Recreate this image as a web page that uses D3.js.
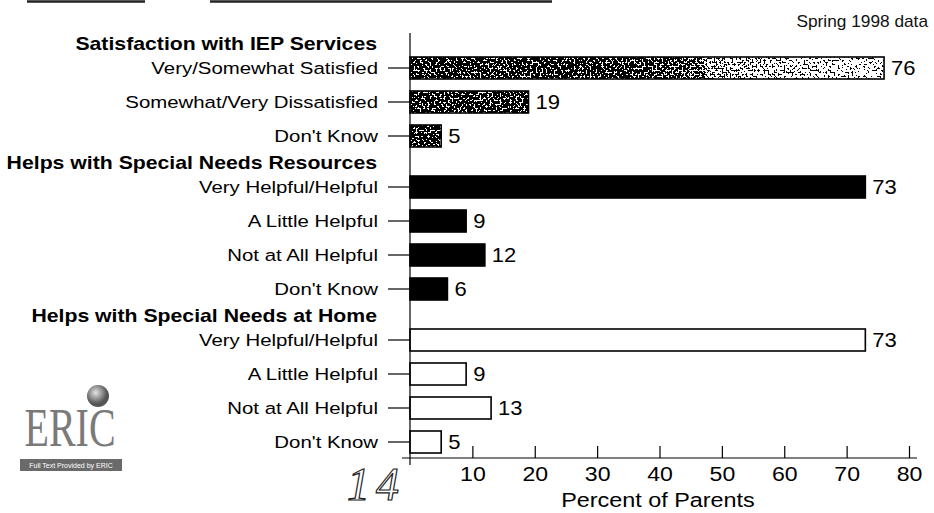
<!DOCTYPE html>
<html>
<head>
<meta charset="utf-8">
<script src="https://cdn.jsdelivr.net/npm/d3@7"></script>
<style>
  body { margin: 0; background: #fff; }
  svg { display: block; }
</style>
</head>
<body>
<div class="sticky"></div>
<script>
let w = 934;
let h = 513;

// data
const groupTitles = ["Satisfaction with IEP Services",
                     "Helps with Special Needs Resources",
                     "Helps with Special Needs at Home"];
const satLabels = ["Very/Somewhat Satisfied", "Somewhat/Very Dissatisfied", "Don't Know"];
const satValues = [76, 19, 5];
const resLabels = ["Very Helpful/Helpful", "A Little Helpful", "Not at All Helpful", "Don't Know"];
const resValues = [73, 9, 12, 6];
const homeLabels = ["Very Helpful/Helpful", "A Little Helpful", "Not at All Helpful", "Don't Know"];
const homeValues = [73, 9, 13, 5];
const xTicks = [10, 20, 30, 40, 50, 60, 70, 80];

const groups = [
  { title: groupTitles[0], labels: satLabels,  values: satValues,  kind: "stipple" },
  { title: groupTitles[1], labels: resLabels,  values: resValues,  kind: "solid" },
  { title: groupTitles[2], labels: homeLabels, values: homeValues, kind: "open" }
];

// each row gets one slot, each new group half a slot extra
let rows = [];
let headers = [];
let slot = 0;
groups.forEach(function(g) {
  headers.push({ title: g.title, slot: slot - 0.72 });
  g.labels.forEach(function(lab, i) {
    rows.push({ label: lab, value: g.values[i], kind: g.kind, slot: slot });
    slot++;
  });
  slot += 0.5;
});

let font = "'Liberation Sans', Arial, Helvetica, sans-serif";

let viz = d3.select(".sticky")
  .append("svg")
    .attr("width", w)
    .attr("height", h)
    .style("font-family", font)
;

let x = d3.scaleLinear().domain([0, 80]).range([410, 909]);
let y = d3.scaleLinear().domain([0, 11]).range([68, 442]);
let barH = 22;

let defs = viz.append("defs");

// the scan gets lighter toward the right of the long bar
let shade = defs.append("linearGradient").attr("id", "shade")
  .attr("gradientUnits", "userSpaceOnUse")
  .attr("x1", x(0)).attr("x2", x(80)).attr("y1", 0).attr("y2", 0);
shade.append("stop").attr("offset", 0).attr("stop-color", "#000");
shade.append("stop").attr("offset", 0.4).attr("stop-color", "#000");
shade.append("stop").attr("offset", 1).attr("stop-color", "#666");

// scanned halftone look for the first group
let f = defs.append("filter").attr("id", "stipple")
  .attr("x", 0).attr("y", 0).attr("width", 1).attr("height", 1)
  .attr("color-interpolation-filters", "sRGB");
f.append("feTurbulence")
  .attr("type", "fractalNoise")
  .attr("baseFrequency", 0.5)
  .attr("numOctaves", 2)
  .attr("seed", 7)
  .attr("result", "noise");
f.append("feColorMatrix")
  .attr("in", "noise")
  .attr("type", "matrix")
  .attr("values", "1 0 0 0 0  1 0 0 0 0  1 0 0 0 0  0 0 0 0 1")
  .attr("result", "gray");
f.append("feComposite")
  .attr("in", "gray").attr("in2", "SourceGraphic")
  .attr("operator", "arithmetic")
  .attr("k1", 0).attr("k2", 1).attr("k3", 0.55).attr("k4", 0)
  .attr("result", "mix");
let ct = f.append("feComponentTransfer").attr("in", "mix").attr("result", "bw");
["feFuncR", "feFuncG", "feFuncB"].forEach(function(fn) {
  ct.append(fn).attr("type", "discrete").attr("tableValues", "0 0 0 0 1 1 1");
});
ct.append("feFuncA").attr("type", "linear").attr("slope", 0).attr("intercept", 1);
f.append("feComposite").attr("in", "bw").attr("in2", "SourceAlpha").attr("operator", "in");

// scan border fragments at top
viz.append("line").attr("x1", 27).attr("x2", 145).attr("y1", 1.5).attr("y2", 1.5)
  .attr("stroke", "#222").attr("stroke-width", 2.5);
viz.append("line").attr("x1", 210).attr("x2", 552).attr("y1", 1.5).attr("y2", 1.5)
  .attr("stroke", "#222").attr("stroke-width", 2.5);

viz.append("text")
  .attr("transform", "translate(928,21) scale(1.08,1)")
  .attr("dy", "0.35em")
  .attr("text-anchor", "end")
  .attr("font-size", 16)
  .attr("fill", "#111")
  .text("Spring 1998 data");

// bars
let bars = viz.append("g").attr("class", "bars");

bars.selectAll("rect.fill")
  .data(rows)
  .enter()
  .append("rect")
    .attr("class", "fill")
    .attr("x", x(0))
    .attr("y", d => y(d.slot) - barH / 2)
    .attr("width", d => x(d.value) - x(0))
    .attr("height", barH)
    .attr("fill", d => d.kind == "open" ? "#fff" : d.kind == "stipple" ? "url(#shade)" : "#000")
    .attr("filter", d => d.kind == "stipple" ? "url(#stipple)" : null)
;

bars.selectAll("rect.edge")
  .data(rows)
  .enter()
  .append("rect")
    .attr("class", "edge")
    .attr("x", x(0))
    .attr("y", d => y(d.slot) - barH / 2)
    .attr("width", d => x(d.value) - x(0))
    .attr("height", barH)
    .attr("fill", "none")
    .attr("stroke", "#000")
    .attr("stroke-width", 1.6)
;

bars.selectAll("text.val")
  .data(rows)
  .enter()
  .append("text")
    .attr("class", "val")
    .attr("transform", d => "translate(" + (x(d.value) + 7) + "," + y(d.slot) + ") scale(1.1,1)")
    .attr("dy", "0.36em")
    .attr("font-size", 20)
    .attr("fill", "#000")
    .text(d => d.value)
;

// category axis
let cat = viz.append("g").attr("class", "cats");

cat.append("line")
  .attr("x1", x(0)).attr("x2", x(0))
  .attr("y1", 33).attr("y2", 465)
  .attr("stroke", "#000").attr("stroke-width", 1.2);

cat.selectAll("line.tick")
  .data(rows)
  .enter()
  .append("line")
    .attr("class", "tick")
    .attr("x1", x(0) - 22).attr("x2", x(0))
    .attr("y1", d => y(d.slot)).attr("y2", d => y(d.slot))
    .attr("stroke", "#000").attr("stroke-width", 1.2);

cat.selectAll("text.lab")
  .data(rows)
  .enter()
  .append("text")
    .attr("class", "lab")
    .attr("transform", d => "translate(378," + y(d.slot) + ") scale(1.2,1)")
    .attr("dy", "0.35em")
    .attr("text-anchor", "end")
    .attr("font-size", 17)
    .attr("fill", "#000")
    .text(d => d.label);

cat.selectAll("text.head")
  .data(headers)
  .enter()
  .append("text")
    .attr("class", "head")
    .attr("transform", d => "translate(377," + y(d.slot) + ") scale(1.18,1)")
    .attr("dy", "0.35em")
    .attr("text-anchor", "end")
    .attr("font-size", 18)
    .attr("font-weight", "bold")
    .attr("fill", "#000")
    .text(d => d.title);

// value axis
let xAxis = viz.append("g")
  .attr("transform", "translate(0,458)")
  .call(d3.axisBottom(x).tickValues(xTicks).tickSizeInner(-12).tickSizeOuter(0).tickPadding(8));
xAxis.select(".domain").remove();
xAxis.selectAll(".tick line").attr("stroke", "#000").attr("stroke-width", 1.2);
xAxis.selectAll(".tick text")
  .attr("font-size", 21)
  .attr("font-family", font)
  .attr("fill", "#000")
  .attr("transform", "scale(1.1,1)");
xAxis.append("line")
  .attr("x1", 402).attr("x2", 917)
  .attr("y1", 0).attr("y2", 0)
  .attr("stroke", "#000").attr("stroke-width", 1.2);

viz.append("text")
  .attr("transform", "translate(658,500) scale(1.2,1)")
  .attr("dy", "0.35em")
  .attr("text-anchor", "middle")
  .attr("font-size", 19.5)
  .attr("fill", "#000")
  .text("Percent of Parents");

// handwritten page number
viz.append("text")
  .attr("x", 347)
  .attr("y", 500)
  .attr("font-family", "'Liberation Serif', 'DejaVu Serif', serif")
  .attr("font-style", "italic")
  .attr("font-size", 46)
  .attr("letter-spacing", 6)
  .attr("fill", "#fff")
  .attr("stroke", "#222")
  .attr("stroke-width", 1.2)
  .text("14");

// ERIC logo
let logo = viz.append("g").attr("class", "logo");
let grad = defs.append("radialGradient").attr("id", "globe").attr("cx", "40%").attr("cy", "35%");
grad.append("stop").attr("offset", "0%").attr("stop-color", "#e4e4e4");
grad.append("stop").attr("offset", "100%").attr("stop-color", "#555");
logo.append("circle")
  .attr("cx", 98).attr("cy", 396).attr("r", 11)
  .attr("fill", "url(#globe)");
logo.append("text")
  .attr("transform", "translate(70,446) scale(0.8,1.1)")
  .attr("text-anchor", "middle")
  .attr("font-family", "'Liberation Serif', 'DejaVu Serif', serif")
  .attr("font-size", 50)
  .attr("fill", "#7a7a7a")
  .text("ERIC");
logo.append("rect")
  .attr("x", 20).attr("y", 459).attr("width", 102).attr("height", 12)
  .attr("fill", "#6a6a6a");
logo.append("text")
  .attr("x", 71).attr("y", 468)
  .attr("text-anchor", "middle")
  .attr("font-size", 7)
  .attr("fill", "#fff")
  .text("Full Text Provided by ERIC");
</script>
</body>
</html>
